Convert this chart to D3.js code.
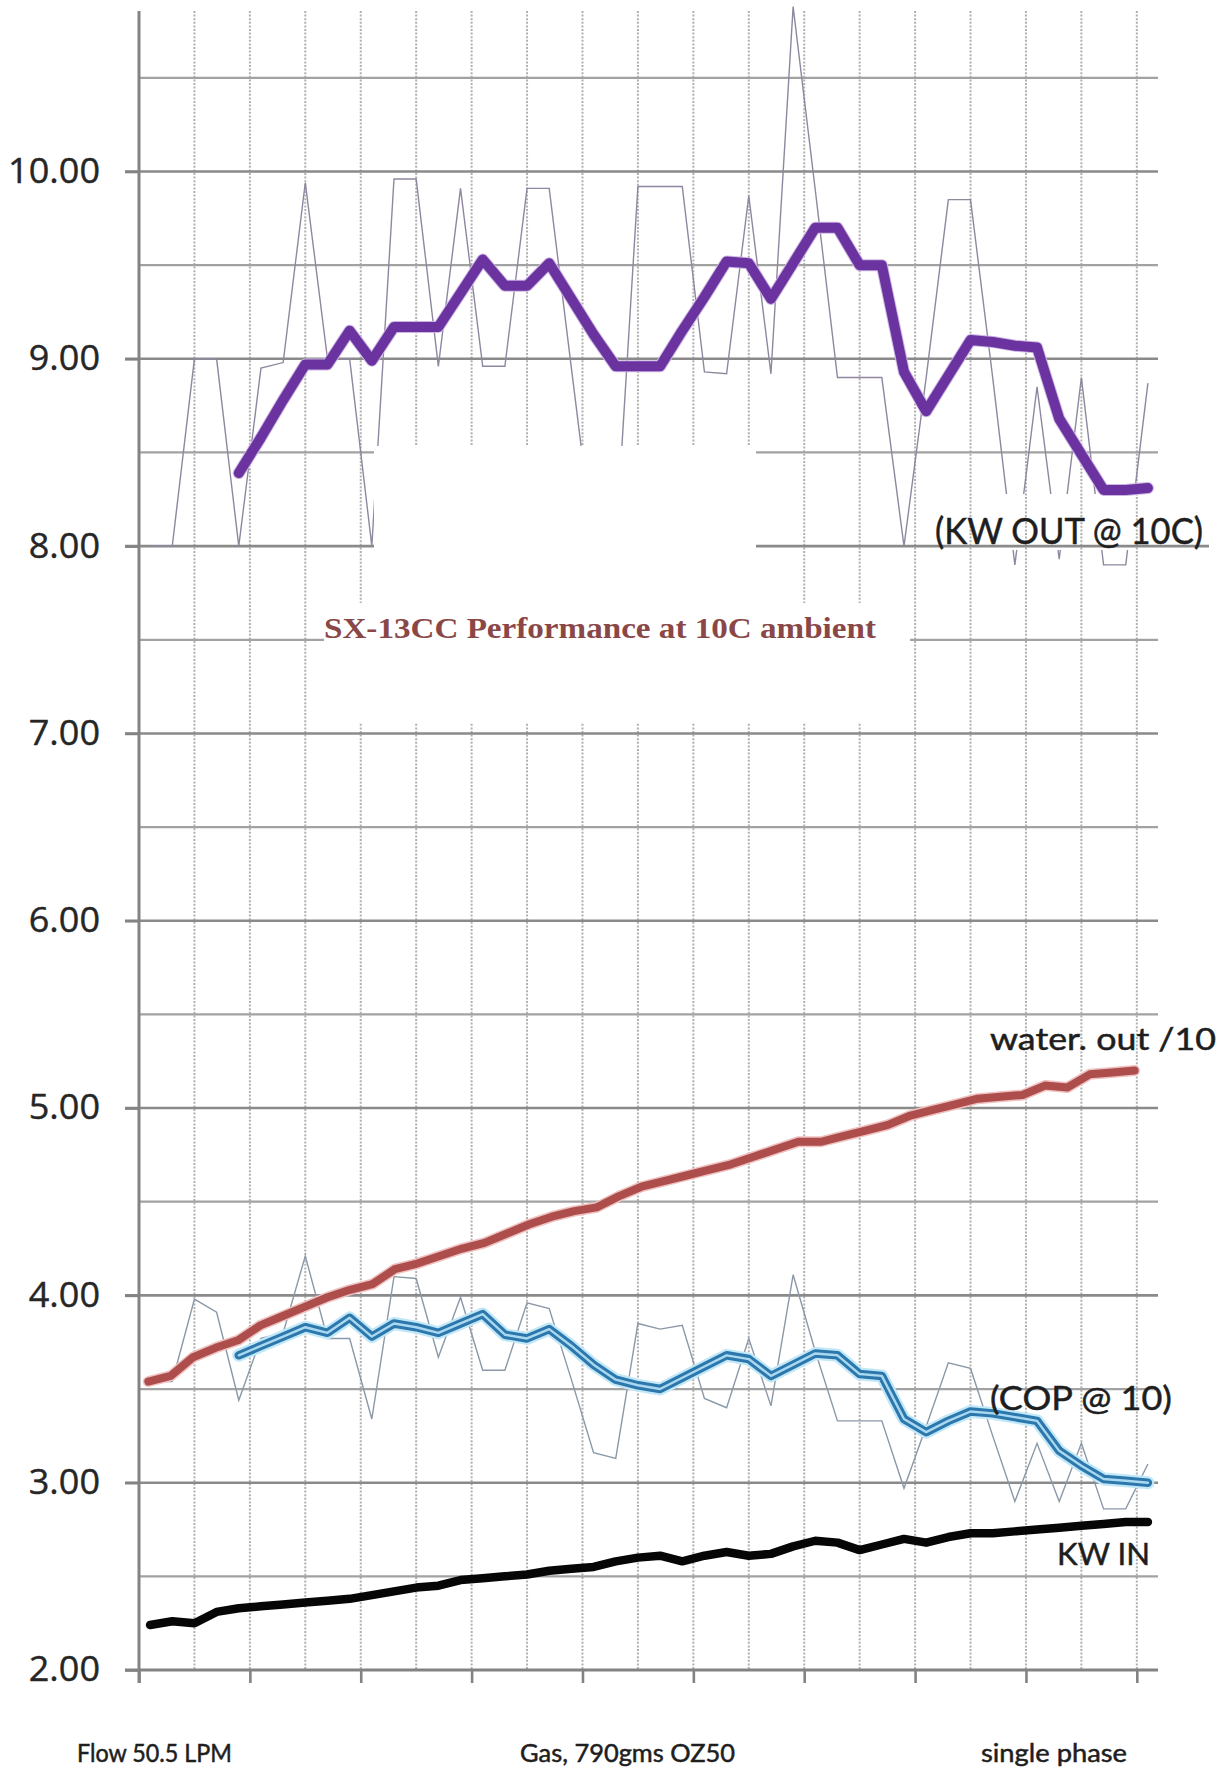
<!DOCTYPE html>
<html><head><meta charset="utf-8">
<script src="https://cdn.jsdelivr.net/npm/d3@7"></script>
<style>body{margin:0;background:#fff}svg{display:block}</style>
</head><body>
<svg id="c" width="1226" height="1771"></svg>
<script>
// ---------------- DATA ----------------
const sampleIndex = d3.range(46);               // 46 test samples along x
const yTickValues = [2, 3, 4, 5, 6, 7, 8, 9, 10];
const kwOutRaw = [8.0, 8.0, 9.0, 9.0, 8.0, 8.95, 8.98, 9.94, 9.0, 9.0,
  8.0, 9.96, 9.96, 8.96, 9.91, 8.96, 8.96, 9.91, 9.91, 8.95,
  8.0, 8.0, 9.92, 9.92, 9.92, 8.93, 8.92, 9.87, 8.92, 10.88,
  9.9, 8.9, 8.9, 8.9, 8.0, 8.9, 9.85, 9.85, 8.9, 7.9,
  8.85, 7.93, 8.9, 7.9, 7.9, 8.87];
const kwOutAvg = [null, null, null, null, 8.39, 8.58, 8.78, 8.97, 8.97, 9.15,
  8.99, 9.17, 9.17, 9.17, 9.35, 9.53, 9.39, 9.39, 9.51, 9.32,
  9.13, 8.96, 8.96, 8.96, 9.15, 9.33, 9.52, 9.51, 9.32, 9.51,
  9.70, 9.70, 9.50, 9.50, 8.93, 8.72, 8.91, 9.10, 9.09, 9.07,
  9.06, 8.68, 8.49, 8.30, 8.30, 8.31];
const copRaw = [3.54, 3.54, 3.98, 3.91, 3.44, 3.77, 3.80, 4.21, 3.77, 3.77,
  3.34, 4.10, 4.09, 3.67, 3.99, 3.60, 3.60, 3.96, 3.93, 3.55,
  3.16, 3.13, 3.85, 3.82, 3.84, 3.45, 3.40, 3.77, 3.41, 4.11,
  3.70, 3.33, 3.33, 3.33, 2.97, 3.30, 3.64, 3.61, 3.25, 2.90,
  3.21, 2.90, 3.21, 2.86, 2.86, 3.10];
const copAvg = [null, null, null, null, 3.68, 3.73, 3.78, 3.83, 3.80, 3.88,
  3.78, 3.85, 3.83, 3.80, 3.85, 3.90, 3.79, 3.77, 3.82, 3.73,
  3.63, 3.55, 3.52, 3.50, 3.56, 3.62, 3.68, 3.66, 3.57, 3.63,
  3.69, 3.68, 3.58, 3.57, 3.34, 3.27, 3.33, 3.38, 3.37, 3.35,
  3.33, 3.17, 3.09, 3.02, 3.01, 3.00];
const waterOut = [3.54, 3.57, 3.67, 3.72, 3.76, 3.84, 3.89, 3.94, 3.99, 4.03,
  4.06, 4.14, 4.17, 4.21, 4.25, 4.28, 4.33, 4.38, 4.42, 4.45,
  4.47, 4.53, 4.58, 4.61, 4.64, 4.67, 4.70, 4.74, 4.78, 4.82,
  4.82, 4.85, 4.88, 4.91, 4.96, 4.99, 5.02, 5.05, 5.06, 5.07,
  5.12, 5.11, 5.18, 5.19, 5.20];
const kwIn = [2.24, 2.26, 2.25, 2.31, 2.33, 2.34, 2.35, 2.36, 2.37, 2.38,
  2.40, 2.42, 2.44, 2.45, 2.48, 2.49, 2.50, 2.51, 2.53, 2.54,
  2.55, 2.58, 2.60, 2.61, 2.58, 2.61, 2.63, 2.61, 2.62, 2.66,
  2.69, 2.68, 2.64, 2.67, 2.70, 2.68, 2.71, 2.73, 2.73, 2.74,
  2.75, 2.76, 2.77, 2.78, 2.79, 2.79];
const seriesLabels = ["(KW OUT @ 10C)", "water. out /10", "(COP @ 10)", "KW IN"];
const footerLabels = ["Flow 50.5 LPM", "Gas, 790gms OZ50", "single phase"];
const chartTitle = "SX-13CC Performance at 10C ambient";

// ---------------- LAYOUT ----------------
const W = 1226, H = 1771;
const svg = d3.select("#c");
const x = d3.scaleLinear().domain([0, sampleIndex.length]).range([139, 1159]);
const y = d3.scaleLinear().domain([2, 10]).range([1670, 171.5]);
const px = i => x(i + 0.5);
const xRed = d3.scaleLinear().domain([0, waterOut.length - 1]).range([x(0.42), x(44.9)]);
const plotTop = 11, plotRight = 1158;

const defs = svg.append("defs");
const m = defs.append("mask").attr("id", "lblMask").attr("maskUnits", "userSpaceOnUse")
  .attr("x", 0).attr("y", 0).attr("width", W).attr("height", H);
m.append("rect").attr("width", W).attr("height", H).attr("fill", "#fff");
m.append("rect").attr("x", 925).attr("y", 494).attr("width", 290).attr("height", 56).attr("fill", "#000");

// grid
const grid = svg.append("g");
grid.selectAll(".vg").data(d3.range(2.5, sampleIndex.length, 2.5)).join("line")
  .attr("x1", d => x(d)).attr("x2", d => x(d)).attr("y1", plotTop).attr("y2", y(2))
  .attr("stroke", "#b0b0b0").attr("stroke-width", 2).attr("stroke-dasharray", "2,1.6");
grid.selectAll(".hg").data(d3.range(2.5, 10.51, 0.5)).join("line")
  .attr("x1", d => Number.isInteger(d) ? 125 : x(0) + 1)
  .attr("x2", d => d === 8 ? 1209 : plotRight)
  .attr("y1", d => y(d)).attr("y2", d => y(d))
  .attr("stroke", d => Number.isInteger(d) ? "#8a8a8a" : "#a2a2a2")
  .attr("stroke-width", d => Number.isInteger(d) ? 2.6 : 2.2);

// thin raw lines
const lineOf = (xs) => d3.line().defined(d => d != null).x((d, i) => xs(i)).y(d => y(d));
svg.append("path").datum(kwOutRaw).attr("d", lineOf(px)).attr("fill", "none")
  .attr("stroke", "#8f879f").attr("stroke-width", 1.4).attr("mask", "url(#lblMask)");
svg.append("path").datum(copRaw).attr("d", lineOf(px)).attr("fill", "none")
  .attr("stroke", "#8a98a8").attr("stroke-width", 1.4);

// white erased areas around the title
svg.append("rect").attr("x", 374).attr("y", 446).attr("width", 382).attr("height", 158).attr("fill", "#fff");
svg.append("rect").attr("x", 324).attr("y", 603).attr("width", 586).attr("height", 120).attr("fill", "#fff");

// x axis (2.00 line) and ticks
svg.append("line").attr("x1", 125).attr("x2", plotRight).attr("y1", y(2)).attr("y2", y(2))
  .attr("stroke", "#838383").attr("stroke-width", 3);
const xAxis = svg.append("g").attr("transform", `translate(0,${y(2)})`)
  .call(d3.axisBottom(x).tickValues(d3.range(0, sampleIndex.length, 5)).tickSize(13).tickFormat(""));
xAxis.select(".domain").remove();
xAxis.selectAll("line").attr("stroke", "#838383").attr("stroke-width", 2.6);

// y axis
svg.append("line").attr("x1", x(0)).attr("x2", x(0)).attr("y1", plotTop).attr("y2", y(2) + 13)
  .attr("stroke", "#838383").attr("stroke-width", 3);
const yAxis = svg.append("g").attr("transform", `translate(${x(0)},0)`)
  .call(d3.axisLeft(y).tickValues(yTickValues).tickFormat(d3.format(".2f")).tickSize(14).tickPadding(25));
yAxis.select(".domain").remove();
yAxis.selectAll("line").attr("stroke", "#838383").attr("stroke-width", 2.6);
yAxis.selectAll("text").attr("font-family", "'Open Sans', sans-serif").attr("font-size", 34)
  .attr("fill", "#262626").attr("stroke", "#262626").attr("stroke-width", 0.4)
  .each(function () { const w = this.getComputedTextLength(); d3.select(this).attr("textLength", w * 1.06).attr("lengthAdjust", "spacingAndGlyphs"); });

// thick lines
svg.append("path").datum(waterOut).attr("d", lineOf(xRed)).attr("fill", "none")
  .attr("stroke", "#eec2c0").attr("stroke-width", 11).attr("stroke-linejoin", "round").attr("stroke-linecap", "round");
svg.append("path").datum(waterOut).attr("d", lineOf(xRed)).attr("fill", "none")
  .attr("stroke", "#ae4e4c").attr("stroke-width", 8).attr("stroke-linejoin", "round").attr("stroke-linecap", "round");

svg.append("path").datum(copAvg).attr("d", lineOf(px)).attr("fill", "none")
  .attr("stroke", "#c2e8f8").attr("stroke-width", 13).attr("stroke-linejoin", "round").attr("stroke-linecap", "round");
svg.append("path").datum(copAvg).attr("d", lineOf(px)).attr("fill", "none")
  .attr("stroke", "#2c78ad").attr("stroke-width", 8.5).attr("stroke-linejoin", "round").attr("stroke-linecap", "round");
svg.append("path").datum(copAvg).attr("d", lineOf(px)).attr("fill", "none")
  .attr("stroke", "#a9d8f0").attr("stroke-width", 2.4).attr("stroke-linejoin", "round").attr("stroke-linecap", "round");

svg.append("path").datum(kwOutAvg).attr("d", lineOf(px)).attr("fill", "none")
  .attr("stroke", "#cdb6e3").attr("stroke-width", 12).attr("stroke-linejoin", "round").attr("stroke-linecap", "round");
svg.append("path").datum(kwOutAvg).attr("d", lineOf(px)).attr("fill", "none")
  .attr("stroke", "#6a339f").attr("stroke-width", 10).attr("stroke-linejoin", "round").attr("stroke-linecap", "round");

svg.append("path").datum(kwIn).attr("d", lineOf(px)).attr("fill", "none")
  .attr("stroke", "#060606").attr("stroke-width", 8.5).attr("stroke-linejoin", "round").attr("stroke-linecap", "round");

// texts
function txt(s, xPos, yPos, size, len, opts = {}) {
  const fill = opts.fill || "#1e1e1e";
  svg.append("text").attr("x", xPos).attr("y", yPos).text(s)
    .attr("font-family", opts.family || "Lato, 'Open Sans', sans-serif")
    .attr("font-size", size).attr("font-weight", opts.weight || "normal")
    .attr("fill", fill).attr("stroke", opts.weight ? "none" : fill).attr("stroke-width", 0.5)
    .attr("textLength", len).attr("lengthAdjust", "spacingAndGlyphs");
}
txt(seriesLabels[0], 935, 544, 37, 268);
txt(seriesLabels[1], 990, 1050, 30, 226);
txt(seriesLabels[2], 990, 1410, 33, 182);
txt(seriesLabels[3], 1057, 1565, 31, 93);
txt(footerLabels[0], 77, 1762, 25, 155);
txt(footerLabels[1], 520, 1762, 25, 215);
txt(footerLabels[2], 981, 1762, 25, 146);
txt(chartTitle, 324, 638, 30, 552, { family: "'Liberation Serif', 'Times New Roman', serif", weight: "bold", fill: "#8a4747" });
</script>
</body></html>
